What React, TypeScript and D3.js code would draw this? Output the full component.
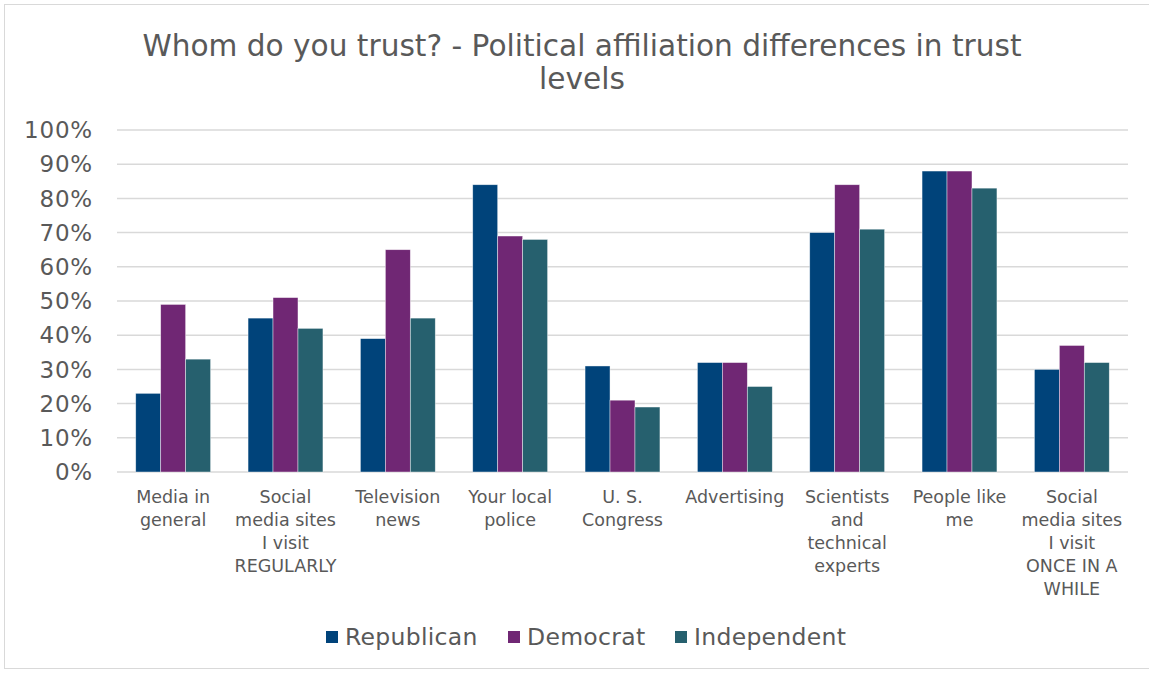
import React from "react";
import * as d3 from "d3";

const categories = [
  "Media in\ngeneral",
  "Social\nmedia sites\nI visit\nREGULARLY",
  "Television\nnews",
  "Your local\npolice",
  "U. S.\nCongress",
  "Advertising",
  "Scientists\nand\ntechnical\nexperts",
  "People like\nme",
  "Social\nmedia sites\nI visit\nONCE IN A\nWHILE",
];
const seriesNames = ["Republican", "Democrat", "Independent"];
const republican = [23, 45, 39, 84, 31, 32, 70, 88, 30];
const democrat = [49, 51, 65, 69, 21, 32, 84, 88, 37];
const independent = [33, 42, 45, 68, 19, 25, 71, 83, 32];
const yTicks = [0, 10, 20, 30, 40, 50, 60, 70, 80, 90, 100];
const colors = ["#00437A", "#702774", "#26606E"];

const W = 1149;
const H = 674;
const FONT = "'DejaVu Sans', Verdana, sans-serif";

export default function App() {
  const series = [republican, democrat, independent];
  const left = 117;
  const right = 1128;
  const top = 130;
  const bottom = 472;
  const x = d3.scaleBand<number>().domain(d3.range(categories.length)).range([left, right]).paddingInner(1.5 / 4.5).paddingOuter(0.75 / 4.5);
  const groupW = x.bandwidth();
  const xs = d3.scaleBand<number>().domain([0, 1, 2]).range([0, groupW]);
  const y = d3.scaleLinear().domain([0, 100]).range([bottom, top]);
  const pct = (v: number) => `${v}%`;

  const legendX = [326, 508, 675];

  return (
    <svg width={W} height={H} style={{ position: "absolute", left: 0, top: 0, background: "#fff" }} fontFamily={FONT}>
      <rect x={4.5} y={4.5} width={W - 3} height={664} fill="#fff" stroke="#d9d9d9" strokeWidth={1} />
      <text x={582} y={56} textAnchor="middle" fontSize={29.6} fill="#595959">
        Whom do you trust? - Political affiliation differences in trust
      </text>
      <text x={582} y={89} textAnchor="middle" fontSize={29.6} fill="#595959">
        levels
      </text>
      {yTicks.map((t) => (
        <g key={t}>
          <line x1={left} x2={right} y1={y(t)} y2={y(t)} stroke="#d9d9d9" strokeWidth={1.5} />
          <text x={93} y={y(t)} dy="0.36em" textAnchor="end" fontSize={23} letterSpacing={0.8} fill="#595959">
            {pct(t)}
          </text>
        </g>
      ))}
      {categories.map((c, i) => (
        <g key={i}>
          {series.map((s, k) => (
            <rect
              key={k}
              x={(x(i) as number) + (xs(k) as number)}
              y={y(s[i])}
              width={xs.bandwidth()}
              height={y(0) - y(s[i])}
              fill={colors[k]}
              stroke="#ffffff"
              strokeOpacity={0.6}
              strokeWidth={0.7}
            />
          ))}
          <text textAnchor="middle" fontSize={17.5} fill="#595959">
            {c.split("\n").map((ln, j) => (
              <tspan key={j} x={(x(i) as number) + groupW / 2} y={503 + j * 23}>
                {ln}
              </tspan>
            ))}
          </text>
        </g>
      ))}
      {seriesNames.map((n, k) => (
        <g key={n}>
          <rect x={legendX[k]} y={631} width={12} height={12} fill={colors[k]} />
          <text x={legendX[k] + 19} y={645} fontSize={23.5} letterSpacing={0.3} fill="#595959">
            {n}
          </text>
        </g>
      ))}
    </svg>
  );
}
